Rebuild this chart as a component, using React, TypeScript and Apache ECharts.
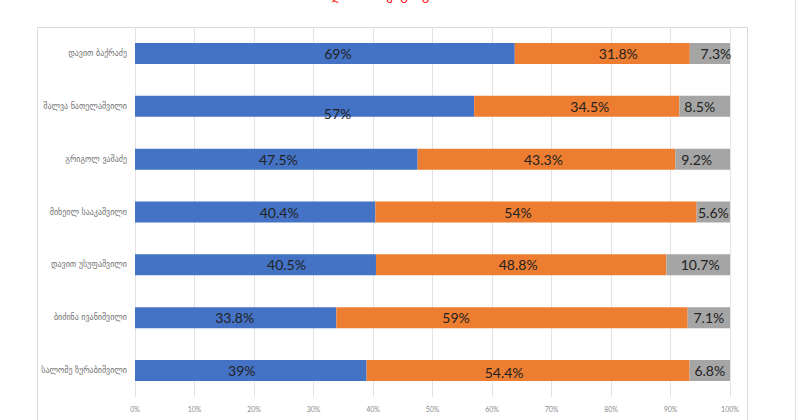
import { useEffect, useRef } from "react";
import * as echarts from "echarts";

// Respondents' rating of each politician: favourable / unfavourable / no answer
const candidates = [
  "დავით ბაქრაძე",
  "შალვა ნათელაშვილი",
  "გრიგოლ ვაშაძე",
  "მიხეილ სააკაშვილი",
  "დავით უსუფაშვილი",
  "ბიძინა ივანიშვილი",
  "სალომე ზურაბიშვილი",
];
const favourable = [69, 57, 47.5, 40.4, 40.5, 33.8, 39];
const unfavourable = [31.8, 34.5, 43.3, 54, 48.8, 59, 54.4];
const noAnswer = [7.3, 8.5, 9.2, 5.6, 10.7, 7.1, 6.8];

// Hand-placed label nudges (dx, dy) relative to the centre of each segment
const favourableShift = [[13, 0], [33, 7], [2, 0], [24, 0], [31, 0], [-1, 0], [-9, 0]];
const unfavourableShift = [[16, 0], [13, 0], [-3, 0], [-18, 0], [-3, 0], [-56, 0], [-24, 2]];
const noAnswerShift = [[6, 0], [-5, 0], [-6, 0], [0, 0], [2, 0], [0, 0], [0, 0]];

const COLORS = ["#4472C4", "#ED7D31", "#A5A5A5"];

export default function App() {
  const ref = useRef<HTMLDivElement>(null);

  useEffect(() => {
    if (!ref.current) return;
    const chart = echarts.init(ref.current, null, { renderer: "svg" });

    // 100% stacked: each row is scaled by its own total
    const totals = candidates.map((_, i) => favourable[i] + unfavourable[i] + noAnswer[i]);

    const makeSeries = (name: string, values: number[], shifts: number[][], color: string) => ({
      name,
      type: "bar",
      stack: "total",
      barWidth: 21,
      itemStyle: { color },
      label: {
        show: true,
        position: "inside",
        color: "#222",
        fontFamily: "Lato, 'Open Sans', sans-serif",
        fontSize: 14,
        formatter: (p: any) => `${values[p.dataIndex]}%`,
      },
      data: values.map((v, i) => ({
        value: (v / totals[i]) * 100,
        label: { offset: shifts[i] },
      })),
    });

    chart.setOption({
      animation: false,
      grid: { left: 135, right: 70, top: 27, bottom: 23, containLabel: false },
      xAxis: {
        type: "value",
        min: 0,
        max: 100,
        interval: 10,
        axisLine: { show: false },
        axisTick: { show: false },
        splitLine: { show: true, lineStyle: { color: "#e3e3e3", width: 1 } },
        axisLabel: {
          formatter: "{value}%",
          fontSize: 7,
          color: "#8c8c8c",
          fontFamily: "Lato, sans-serif",
          margin: 8,
        },
      },
      yAxis: {
        type: "category",
        inverse: true,
        data: candidates,
        axisLine: { show: false },
        axisTick: { show: false },
        axisLabel: {
          fontSize: 8,
          color: "#737373",
          fontFamily: "'DejaVu Sans', sans-serif",
          margin: 8,
        },
      },
      series: [
        makeSeries("დადებითი", favourable, favourableShift, COLORS[0]),
        makeSeries("უარყოფითი", unfavourable, unfavourableShift, COLORS[1]),
        makeSeries("არ ვიცი", noAnswer, noAnswerShift, COLORS[2]),
      ],
      graphic: [
        {
          type: "rect",
          silent: true,
          shape: { x: 37.5, y: 27.5, width: 710, height: 420 },
          style: { fill: "none", stroke: "#d9d9d9", lineWidth: 1 },
        },
        {
          type: "line",
          silent: true,
          shape: { x1: 795.5, y1: 0, x2: 795.5, y2: 420 },
          style: { stroke: "#e3e3e3", lineWidth: 1 },
        },
        {
          type: "text",
          silent: true,
          x: 380,
          y: -11,
          style: {
            text: "ნდობის რეიტინგი",
            fill: "#ff0000",
            fontSize: 13,
            fontFamily: "'DejaVu Sans', sans-serif",
            textAlign: "center",
          },
        },
      ],
    });

    return () => chart.dispose();
  }, []);

  return (
    <div
      ref={ref}
      style={{ position: "fixed", left: 0, top: 0, width: 800, height: 420, background: "#fff" }}
    />
  );
}
